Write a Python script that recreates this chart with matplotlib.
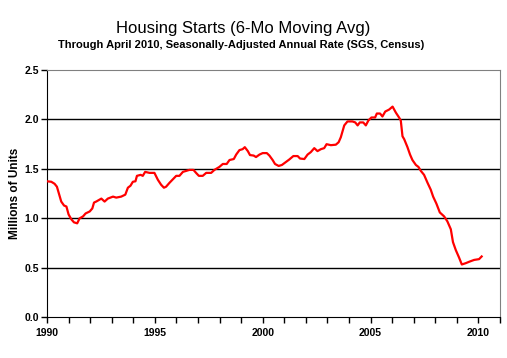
import matplotlib
matplotlib.use("Agg")
import matplotlib.pyplot as plt

# digitised 6-month moving average of housing starts (millions, SAAR)
years = [1990.00, 1990.20, 1990.35, 1990.46, 1990.59, 1990.66, 1990.79, 1990.90,
         1991.00, 1991.13, 1991.25, 1991.40, 1991.51, 1991.67, 1991.79, 1991.98,
         1992.10, 1992.18, 1992.28, 1992.52, 1992.67, 1992.82, 1993.06, 1993.21,
         1993.44, 1993.63, 1993.75, 1993.87, 1993.98, 1994.10, 1994.17, 1994.34,
         1994.44, 1994.55, 1994.75, 1994.98, 1995.14, 1995.29, 1995.42, 1995.52,
         1995.68, 1995.86, 1995.99, 1996.14, 1996.30, 1996.45, 1996.60, 1996.79,
         1996.91, 1997.04, 1997.22, 1997.38, 1997.61, 1997.76, 1997.99, 1998.15,
         1998.33, 1998.46, 1998.66, 1998.77, 1998.92, 1999.07, 1999.17, 1999.31,
         1999.41, 1999.58, 1999.69, 1999.85, 2000.00, 2000.19, 2000.31, 2000.46,
         2000.57, 2000.74, 2000.89, 2001.08, 2001.23, 2001.42, 2001.62, 2001.73,
         2001.93, 2002.08, 2002.23, 2002.39, 2002.54, 2002.70, 2002.85, 2002.96,
         2003.16, 2003.39, 2003.52, 2003.62, 2003.78, 2003.93, 2004.16, 2004.29,
         2004.40, 2004.50, 2004.66, 2004.78, 2004.90, 2005.04, 2005.21, 2005.29,
         2005.44, 2005.55, 2005.68, 2005.86, 2006.02, 2006.17, 2006.32, 2006.40,
         2006.48, 2006.56, 2006.71, 2006.83, 2006.94, 2007.10, 2007.22, 2007.33,
         2007.48, 2007.64, 2007.79, 2007.90, 2008.05, 2008.21, 2008.41, 2008.56,
         2008.72, 2008.82, 2008.95, 2009.10, 2009.23, 2009.41, 2009.60, 2009.80,
         2010.03, 2010.15]
starts = [1.375, 1.37, 1.35, 1.32, 1.22, 1.17, 1.13, 1.12,
          1.04, 0.99, 0.96, 0.95, 1.00, 1.02, 1.05, 1.07,
          1.10, 1.16, 1.17, 1.20, 1.17, 1.20, 1.22, 1.21,
          1.22, 1.24, 1.31, 1.33, 1.37, 1.375, 1.43, 1.44,
          1.43, 1.47, 1.46, 1.46, 1.39, 1.34, 1.31, 1.32,
          1.36, 1.40, 1.43, 1.43, 1.47, 1.48, 1.49, 1.49,
          1.46, 1.43, 1.43, 1.46, 1.46, 1.49, 1.52, 1.55,
          1.55, 1.59, 1.60, 1.645, 1.69, 1.70, 1.72, 1.68,
          1.64, 1.635, 1.62, 1.645, 1.66, 1.66, 1.635, 1.59,
          1.55, 1.53, 1.54, 1.57, 1.595, 1.63, 1.63, 1.605,
          1.60, 1.645, 1.67, 1.71, 1.68, 1.70, 1.71, 1.75,
          1.74, 1.745, 1.77, 1.82, 1.94, 1.98, 1.98, 1.97,
          1.94, 1.97, 1.97, 1.94, 1.99, 2.02, 2.02, 2.06,
          2.06, 2.03, 2.08, 2.10, 2.13, 2.07, 2.02, 1.99,
          1.83, 1.80, 1.72, 1.645, 1.59, 1.54, 1.52, 1.48,
          1.44, 1.36, 1.29, 1.22, 1.15, 1.06, 1.02, 0.97,
          0.89, 0.76, 0.68, 0.605, 0.534, 0.547, 0.564, 0.58,
          0.588, 0.615]

yticks = [0.0, 0.5, 1.0, 1.5, 2.0, 2.5]
xlabels = [1990, 1995, 2000, 2005, 2010]

plt.rcParams['font.family'] = ['Liberation Sans', 'DejaVu Sans']

fig = plt.figure(figsize=(5.07, 3.58), dpi=100)
ax = fig.add_axes([47/507, (358-317.3)/358, (500-47)/507, (317.3-70)/358])

for v in yticks[1:-1]:
    ax.axhline(v, color='black', lw=1.0, zorder=1)

ax.plot(years, starts, color='#ff0000', lw=1.6, zorder=3)

ax.set_xlim(1990, 2011)
ax.set_ylim(0, 2.5)
ax.set_yticks(yticks)
ax.set_yticklabels(['%.1f' % v for v in yticks], fontsize=7.5, fontweight='bold')
ax.set_xticks(range(1990, 2012))
ax.set_xticklabels([str(y) if y in xlabels else '' for y in range(1990, 2012)],
                   fontsize=7.5, fontweight='bold')
ax.tick_params(direction='out', length=4, width=1, color='black', pad=2)
ax.tick_params(axis='x', pad=4)
ax.set_ylabel('Millions of Units', fontsize=8.5, fontweight='bold', labelpad=2)

for s in ['top', 'right']:
    ax.spines[s].set_color('#808080')
for s in ['left', 'bottom']:
    ax.spines[s].set_color('black')

fig.text(0.48, 1 - 28/358, 'Housing Starts (6-Mo Moving Avg)', ha='center', va='center',
         fontsize=12)
fig.text(0.475, 1 - 45/358, 'Through April 2010, Seasonally-Adjusted Annual Rate (SGS, Census)',
         ha='center', va='center', fontsize=8, fontweight='bold')

fig.savefig('out.png', dpi=100)
